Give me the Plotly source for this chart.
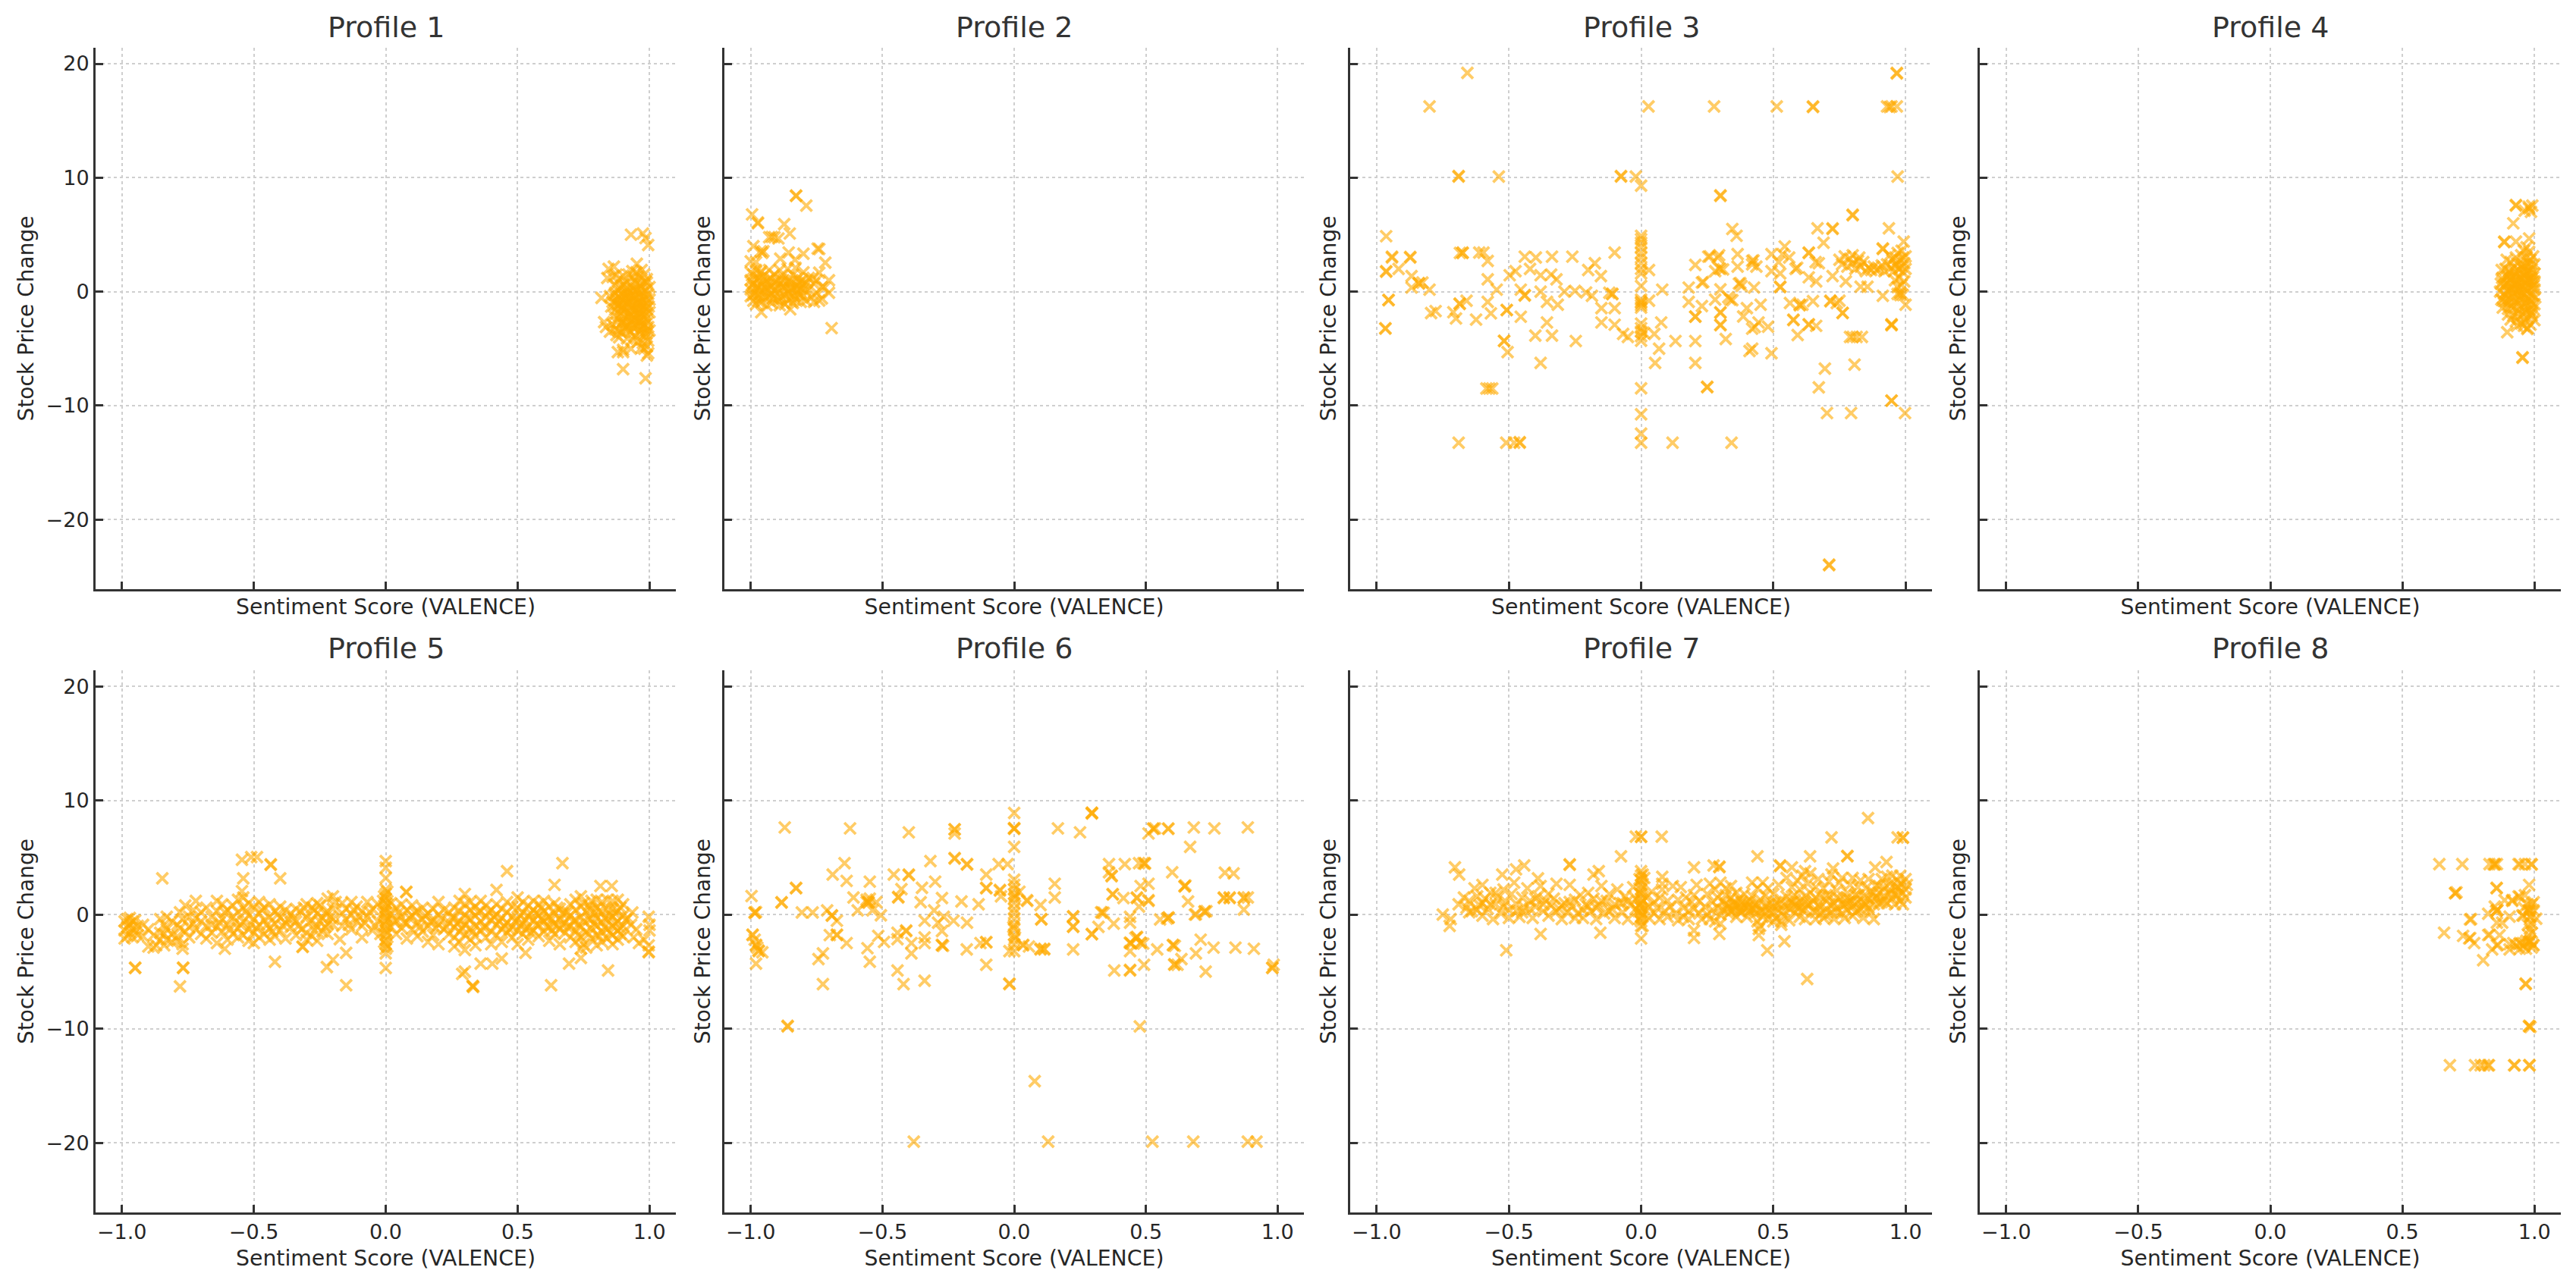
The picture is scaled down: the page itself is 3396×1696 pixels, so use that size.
import plotly.graph_objects as go

W, H = 3396, 1696

titles = ["Profile 1", "Profile 2", "Profile 3", "Profile 4", "Profile 5", "Profile 6", "Profile 7", "Profile 8"]
x_ticks = [-1.0, -0.5, 0.0, 0.5, 1.0]
y_ticks = [-20, -10, 0, 10, 20]
x_label = "Sentiment Score (VALENCE)"
y_label = "Stock Price Change"

profile1 = [
(.93,5.0),(.975,5.1),(.985,4.7),(.995,4.1),(.985,-7.6),(.90,-6.8),(.88,-5.3),(.90,-5.1),(.995,-5.4),(.99,-4.8),
(.865,2.2),(.845,2.0),(.952,2.45),(.99,1.1),(.84,1.2),(.818,-.55),(.828,-2.67),(.835,-3.1),(.85,-3.5),(.875,-3.8),(.9,-5.3),(.93,-5.0),(.99,-5.6),
(.86,1.3),(.87,.6),(.875,1.5),(.88,.1),(.885,1.1),(.89,-.6),(.895,.5),(.9,1.4),(.905,-1.2),(.91,.9),(.915,-.2),(.92,1.5),(.925,-.9),(.93,.5),(.935,1.8),(.94,-.3),(.945,1.0),(.95,1.7),(.955,.2),(.96,1.4),(.965,-.5),(.97,1.9),(.975,.7),(.98,1.5),(.985,.1),(.99,.8),(.995,-.2),(1.0,.4),
(.85,-.4),(.855,-1.3),(.86,-.9),(.865,-2.1),(.87,-1.6),(.875,-.7),(.88,-2.3),(.885,-1.1),(.89,-1.9),(.895,-2.7),(.9,-.8),(.905,-2.2),(.91,-1.5),(.915,-3.0),(.92,-.6),(.925,-1.9),(.93,-2.6),(.935,-1.2),(.94,-3.2),(.945,-1.7),(.95,-2.4),(.955,-.9),(.96,-3.4),(.965,-1.6),(.97,-2.7),(.975,-.8),(.98,-3.6),(.985,-2.0),(.99,-1.0),(.995,-3.1),(1.0,-1.8),
(.86,-2.9),(.87,-3.3),(.88,-3.4),(.885,-4.0),(.895,-3.6),(.905,-3.2),(.915,-4.1),(.925,-3.5),(.935,-4.2),(.945,-3.9),(.955,-4.4),(.965,-3.7),(.975,-4.5),(.985,-4.0),(.995,-4.3),(1.0,-3.4),(.97,-4.9),(.98,-5.0),
(.92,-.1),(.93,-1.3),(.94,.2),(.95,-1.1),(.96,-.2),(.97,-1.3),(.98,-.4),(.99,-1.5),(1.0,-.7),(.99,-2.4),(.97,-2.0),(.95,-2.0),(.98,-2.9),(.96,-2.6),(.94,-2.5),(.92,-2.2),(.9,-1.6),(.91,-.5),
(.87,-.1),(.88,-1.2),(.89,.3),(.9,-2.6),(.91,-3.0),(.92,-3.3),(.93,.1),(.94,1.3),(.95,.7),(.96,-1.0),(.97,.3),(.98,-1.7),(.99,-3.4),(.985,.9),(.975,-3.2),(.955,-3.0),(.935,-2.1),(.915,-1.0),(.895,-1.3),(.875,-2.7),
(.865,-.3),(.872,-1.1),(.883,-.4),(.893,-1.5),(.903,-.2),(.908,-2.7),(.918,-1.8),(.928,-.4),(.938,-1.6),(.943,-2.9),(.948,-.5),(.953,-1.5),(.958,-1.9),(.963,-2.3),(.968,-1.0),(.973,-.1),(.978,-2.2),(.983,-1.3),(.988,-.6),(.993,-2.7),(.997,-1.3),(.963,.6),(.948,.1),(.933,-.7),(.923,-2.9),(.913,.3),(.903,.6),(.893,-.2),(.968,-3.0),(.988,-3.7),
]

profile2 = [
(-.828,8.44),(-.828,8.4),(-.789,7.56),(-.995,6.78),(-.973,6.07),(-.973,6.0),(-.873,5.93),(-.852,5.1),(-.93,4.78),(-.91,4.78),(-.92,4.8),(-.895,4.67),(-.99,4.0),(-.962,3.55),(-.952,3.55),(-.957,3.4),(-.856,3.44),(-.80,3.33),(-.746,3.78),(-.74,3.75),(-.888,2.9),(-.717,2.55),(-.832,2.8),(-1.0,2.67),(-.98,2.6),(-.703,1.0),(-.703,-.1),(-.693,-3.2),(-.96,-1.8),(-.85,-1.55),(-.74,-.78),(-.74,1.67),(-.765,1.2),(-.72,.35),
(-1.0,1.7),(-1.0,1.0),(-1.0,.2),(-1.0,-.4),(-.99,1.5),(-.99,.7),(-.99,-.8),(-.98,1.9),(-.98,.3),(-.98,-1.1),(-.97,1.2),(-.97,-.3),(-.96,1.8),(-.96,.6),(-.96,-.9),(-.95,.0),(-.95,1.4),(-.94,-1.2),(-.94,.9),(-.93,1.9),(-.93,-.4),(-.92,.5),(-.92,-1.0),(-.91,1.5),(-.91,.1),(-.90,-.7),(-.90,1.0),(-.89,1.9),(-.89,-1.2),(-.88,.4),(-.88,1.4),(-.87,-.3),(-.87,-1.1),(-.86,.9),(-.86,2.0),(-.85,-.6),(-.85,.3),(-.84,1.5),(-.84,-1.0),(-.83,.6),(-.83,2.1),(-.82,-.2),(-.82,1.2),(-.81,-.9),(-.81,.3),(-.80,1.7),(-.80,-.4),
(-.79,.8),(-.79,-.8),(-.78,.2),(-.78,1.2),(-.77,-.5),(-.76,.7),(-.75,-.1),(-.75,1.0),(-.73,.4),(-.73,-.6),(-.76,-.9),(-.975,.5),(-.945,.4),(-.905,-.2),(-.865,.2),(-.825,.1),(-.795,.2),(-.985,-.1),(-.935,.2),(-.895,.6),(-.855,-.1),
(-.995,.6),(-.965,1.6),(-.955,-.5),(-.925,1.2),(-.915,-.6),(-.885,-.5),(-.875,1.0),(-.845,.8),(-.835,-.4),(-.815,.8),(-.805,1.0),
(-.992,-.3),(-.982,1.0),(-.972,-.8),(-.962,.1),(-.952,.9),(-.942,-.5),(-.932,.7),(-.922,-.2),(-.912,.8),(-.902,.3),(-.892,-.8),(-.882,1.0),(-.872,.4),(-.862,-.7),(-.852,.9),(-.842,.1),(-.832,-.7),(-.822,.5),(-.812,-.3),(-.802,.6),
]

profile3 = [
(-.657,19.2),(.967,19.2),(.967,19.15),(-.80,16.25),(.028,16.25),(.276,16.25),(.513,16.25),(.65,16.25),(.65,16.2),(.93,16.25),(.947,16.25),(.94,16.2),(.967,16.25),
(-.69,10.1),(-.69,10.15),(-.538,10.1),(-.076,10.1),(-.076,10.15),(-.02,10.1),(0,9.3),(.97,10.1),(.30,8.4),(.30,8.45),(.80,6.75),(.80,6.7),
(.345,5.5),(.361,4.9),(.667,5.56),(.724,5.56),(.724,5.5),(.937,5.56),(-.964,4.87),(.69,4.3),(.993,4.4),
(-.942,3.07),(-.942,3.0),(-.873,3.0),(-.873,3.05),(-.675,3.43),(-.675,3.4),(-.685,3.4),(-.612,3.43),(-.596,3.43),(-.58,2.7),(-.44,3.07),(-.398,3.0),(-.337,3.07),(-.26,3.07),(-.175,2.5),(-.10,3.43),(-.42,2.0),
(-.964,1.8),(-.964,1.75),(-.917,2.0),(-.475,1.8),(-.497,1.44),(-.38,1.44),(-.34,1.5),(-.2,1.9),(-.152,1.37),(-.32,1.08),(-.868,1.37),(-.84,.72),(-.84,.75),(-.868,.36),(-.80,.18),(-.827,.8),(-.58,1.08),(-.546,.18),(-.455,.18),(-.38,0),(-.29,0),(-.25,.07),(-.208,-.07),(-.186,-.36),
(-.955,-.72),(-.955,-.75),(-.686,-1.08),(-.686,-1.05),(-.66,-.8),(-.58,-.9),(-.568,-1.9),(-.794,-1.88),(-.777,-1.7),(-.71,-1.8),(-.70,-2.35),(-.624,-2.45),(-.508,-1.62),(-.508,-1.6),(-.44,-.3),(-.44,-.35),(-.356,-.9),(-.315,-1.15),(-.455,-2.2),(-.356,-2.7),(-.15,-1.44),(-.109,-.18),(-.109,-.22),(-.12,-.1),(-.10,-1.44),(-.15,-2.7),(-.10,-2.9),(-.068,-3.7),(-.05,-3.97),(-.40,-3.86),(-.337,-3.86),(-.247,-4.33),(-.518,-4.33),(-.518,-4.3),(-.505,-5.3),(-.38,-6.25),(-.585,-8.5),(-.574,-8.5),(-.563,-8.5),(-.967,-3.25),(-.967,-3.2),
(-.69,-13.25),(-.51,-13.25),(-.48,-13.25),(-.459,-13.25),(-.459,-13.2),(0,-13.25),(.119,-13.25),(.342,-13.25),(0,-12.45),(0,-10.76),(0,-8.48),
(.25,-8.38),(.25,-8.35),(.205,-6.25),(.053,-6.25),(.068,-5),(.205,-4.33),(.13,-4.33),(.05,-3.7),(.076,-2.7),(.205,-2.17),(.205,-2.2),(.32,-4.15),(.30,-2.9),(.30,-2.95),(.30,-1.8),(.30,-1.85),(.386,-2.17),(.40,-1.44),(.42,-3.25),(.444,-2.7),(.48,-3.07),(.41,-5.2),(.42,-5.0),(.493,-5.4),(.452,-1.15),(.43,-3.1),(.576,-2.5),(.576,-2.45),(.592,-3.8),(.634,-2.9),(.634,-2.85),(.662,-3),(.60,-1.15),(.61,-1.15),(.60,-1.2),(.563,-1),(.65,-.83),(.716,-.8),(.716,-.85),(.74,-1),(.75,-.8),(.762,-1.88),(.762,-1.85),(.79,-3.97),(.815,-3.97),(.835,-3.97),(.80,-3.97),(.695,-6.75),(.807,-6.4),(.672,-8.4),(.703,-10.65),(.794,-10.65),(.998,-10.65),(.947,-9.57),(.947,-9.55),(.947,-2.9),(.947,-2.95),(.947,-2.85),(.711,-24),(.711,-23.95),(.914,-.36),(1,-1.15),
(.543,3.97),(.535,3.3),(.493,3.3),(.634,3.43),(.634,3.4),(.672,2.5),(.66,2.6),(.584,2),(.59,2.1),(.493,1.8),(.526,1.6),(.526,.43),(.526,.4),(.634,1.26),(.662,.9),(.724,1.37),(.774,.9),(.856,.43),(.83,.43),(.914,3.8),(.914,3.75),(.52,2.6),(.56,3.0),
(0,4.9),(0,4.6),(0,4.3),(0,3.9),(0,3.4),(0,3.0),(0,2.5),(0,2.0),(0,1.6),(0,.5),(0,-.7),(0,-.9),(0,-1.0),(0,-1.2),(0,-1.4),(0,-2.8),(0,-3.2),(0,-3.5),(0,-3.9),(0,-4.3),(.03,1.9),(.08,.18),(.03,-.8),(.01,-3.6),
(.18,-.9),(.23,-1.26),(.18,.36),(.23,.8),(.235,.85),(.205,2.35),(.254,3.07),(.26,3.1),(.295,3.2),(.29,3.0),(.30,2.0),(.295,2.05),(.31,1.95),(.28,1.8),(.365,3.3),(.365,2.2),(.37,.7),(.375,.75),(.38,.5),(.337,-.7),(.345,-.75),(.33,-.5),(.30,.2),(.28,-.7),(.42,2.7),(.425,2.75),(.42,2.4),(.436,2.2),(.427,.36),
(.75,2.8),(.76,2.4),(.77,3.1),(.78,2.2),(.79,2.9),(.80,2.5),(.80,3.2),(.81,2.0),(.82,2.7),(.825,3.0),(.83,2.2),(.84,2.6),(.85,1.8),(.86,2.1),(.87,1.9),(.88,2.2),(.89,1.9),(.90,2.0),(.91,2.3),(.92,1.8),(.93,2.4),
(.94,3.2),(.945,2.1),(.95,2.8),(.955,1.8),(.96,3.0),(.96,1.0),(.965,2.4),(.97,3.4),(.97,.4),(.975,2.0),(.975,1.2),(.98,2.8),(.98,-.1),(.985,3.6),(.985,2.2),(.985,.6),(.99,3.0),(.99,1.7),(.99,-.3),(.995,2.5),(.995,.9),(1.0,3.1),(1.0,2.0),(.97,-.2),(.98,-.3),(.96,2.3),
]

profile4 = [
(.93,7.6),(.93,7.55),(.978,7.45),(.992,7.55),(.963,7.1),(.987,7.0),(.98,7.3),(.92,6.0),(.886,4.4),(.886,4.35),(.93,4.4),(.98,4.67),(.955,-5.8),(.955,-5.75),(.897,-3.55),(.973,-3.27),(.975,-3.2),(.934,-3.0),(.91,-2.44),
(.97,3.9),(.96,3.6),(.98,3.5),(.995,3.1),(.95,3.2),(.93,3.0),(.97,3.0),(.985,2.8),(.895,2.8),(.91,2.6),(.935,2.5),(.955,2.4),(1.0,2.4),
(.876,1.9),(.89,2.0),(.905,1.8),(.92,2.1),(.94,1.9),(.96,2.0),(.975,1.8),(.99,2.0),(1.0,1.6),(.878,1.2),(.895,1.3),(.91,1.1),(.93,1.4),(.95,1.2),(.965,1.4),(.985,1.2),(1.0,.9),
(.873,.7),(.885,.5),(.90,.8),(.915,.4),(.935,.7),(.955,.5),(.97,.8),(.99,.4),(1.0,.2),(.87,.0),(.885,-.2),(.90,.1),(.92,-.1),(.94,.1),(.96,-.2),(.975,.0),(.995,-.3),(1.003,-.5),
(.875,-.7),(.89,-.9),(.905,-.6),(.925,-.9),(.945,-.7),(.965,-1.0),(.985,-.8),(1.0,-1.1),(.88,-1.4),(.90,-1.5),(.92,-1.3),(.94,-1.6),(.96,-1.4),(.98,-1.6),(.995,-1.5),
(.90,-2.0),(.92,-2.1),(.94,-2.2),(.955,-2.0),(.975,-2.3),(.99,-2.1),(1.0,-2.5),(.93,-2.6),(.95,-2.8),(.965,-2.6),(.985,-2.9),(.96,-3.0),
(.91,.2),(.93,1.0),(.95,-.4),(.97,1.6),(.98,-1.2),(.90,1.5),(.89,-.4),(.99,.9),(.92,.7),(.94,-1.0),(.96,.9),(.975,2.5),(.99,-1.8),(.985,2.4),
(.88,.9),(.895,.0),(.91,-1.2),(.925,1.7),(.935,-.3),(.945,.4),(.955,1.6),(.965,.2),(.975,1.1),(.985,-.2),(.995,1.3),(.91,1.6),(.925,.2),(.945,-1.3),(.965,-1.8),(.985,-1.9),(.95,2.2),(.97,2.2),
(.882,-.8),(.892,.7),(.902,-1.0),(.912,.9),(.922,-.5),(.932,.5),(.942,1.2),(.952,-.1),(.962,-.6),(.972,.5),(.982,.9),(.992,-1.1),(.998,.6),(.918,1.3),(.938,-1.9),(.958,1.0),(.978,-.6),(.988,1.6),
]

profile5 = [
(-.847,3.17),(-.545,4.8),(-.51,5.03),(-.488,5.03),(-.436,4.4),(-.436,4.35),(-.40,3.17),(-.54,3.17),(-.545,2.05),(-.95,-4.68),(-.95,-4.65),(-.768,-4.68),(-.768,-4.65),(-.78,-6.3),(-.42,-4.14),(-.61,-3.0),(-.315,-2.8),(-.315,-2.85),(-.223,-4.6),(-.2,-3.96),(-.15,-3.35),(-.15,-6.2),(-.174,-2.16),(0,-4.68),(0,-3.4),(0,4.68),(0,4.1),(0,3.2),(.078,2.0),(.078,1.95),(.30,1.8),(.29,-5.2),(.30,-5.0),(.33,-6.3),(.33,-6.25),(.332,-6.35),(.36,-4.3),(.404,-4.3),(.44,-3.85),(.46,3.8),(.42,2.16),(.53,-3.35),(.627,-6.2),(.64,2.6),(.67,4.5),(.695,-4.3),(.74,-3.8),(.814,2.5),(.857,2.5),(.843,-4.9),(.997,-.2),(1,-.9),(1.0,-1.4),(.997,-2.7),(.997,-3.3),(.997,-3.25),(.96,-2.5),(.98,-2.2),(.935,.18),(.918,-.3),(.95,-1.3),(.94,-2.0),(.93,-.9),
(-.99,-.6),(-.99,-1.4),(-.99,-2.1),(-.98,-.4),(-.98,-1.1),(-.98,-1.9),(-.97,-.8),(-.97,-1.6),(-.97,-.3),(-.96,-1.2),(-.96,-2.0),(-.96,-.6),(-.95,-.5),(-.95,-1.5),(-.94,-1.0),(-.94,-1.8),(-.92,-1.9),(-.92,-.9),(-.9,-1.3),(-.9,-2.8),(-.88,-2.9),(-.88,-1.8),(-.87,-2.7),
(-.855,-.4),(-.855,-1.6),(-.855,-2.2),(-.84,-.9),(-.84,-2.7),(-.84,-1.7),(-.83,-.2),(-.83,-1.3),(-.83,-2.2),(-.81,-1.7),(-.81,-.6),(-.81,-2.4),(-.79,-.9),(-.79,-1.9),(-.79,-2.3),(-.78,.2),(-.78,-1.2),(-.77,-.4),(-.77,-2.6),(-.77,-3.0),(-.76,.8),(-.76,-1.5),(-.745,-.2),(-.745,-1.1),(-.745,-2.0),(-.73,.4),(-.73,-.8),(-.72,1.2),(-.72,-.3),(-.72,-1.3),(-.7,.2),(-.7,-1.7),(-.7,-.6),(-.68,.6),(-.68,-1.0),(-.68,-2.1),(-.66,-.2),(-.66,-.9),(-.66,-1.6),
(-.64,1.2),(-.64,.3),(-.64,-1.1),(-.64,-2.5),(-.62,.9),(-.62,-.4),(-.62,-1.5),(-.6,.4),(-.6,-.9),(-.6,-2.2),(-.58,.8),(-.58,-.2),(-.58,-1.7),(-.56,1.3),(-.56,.2),(-.56,-1.2),(-.56,-2.0),(-.54,1.5),(-.54,.6),(-.54,-.6),(-.54,-1.8),(-.52,1.0),(-.52,-.1),(-.52,-1.3),(-.52,-2.3),(-.5,.7),(-.5,-.4),(-.5,-1.6),(-.5,-2.5),(-.48,1.1),(-.48,.1),(-.48,-.9),(-.48,-2.0),(-.46,.6),(-.46,-.5),(-.46,-1.7),(-.44,.9),(-.44,-.2),(-.44,-1.2),(-.44,-2.2),(-.42,.3),(-.42,-.8),(-.42,-1.9),(-.4,.7),(-.4,-.3),(-.4,-1.4),(-.38,.4),(-.38,-.7),(-.38,-2.1),(-.36,.1),(-.36,-1.1),(-.34,.5),(-.34,-.6),(-.34,-1.8),(-.32,.2),(-.32,-1.3),(-.3,.9),(-.3,-.2),(-.3,-1.6),(-.3,-2.2),(-.28,.6),(-.28,-.5),(-.28,-1.9),(-.26,1.0),(-.26,.1),(-.26,-1.1),(-.26,-2.3),(-.25,.8),(-.24,-.3),(-.24,-1.5),(-.22,1.4),(-.22,.3),(-.22,-.8),(-.22,-1.7),(-.2,1.6),(-.2,.5),(-.2,-.4),(-.2,-.9),(-.19,1.1),
(-.165,1.0),(-.165,.1),(-.165,-1.0),(-.15,.5),(-.15,-.4),(-.13,1.1),(-.13,.0),(-.13,-1.3),(-.11,.7),(-.11,-.6),(-.09,.3),(-.09,-1.0),(-.09,-2.0),(-.07,1.1),(-.07,-.2),(-.05,.5),(-.05,-1.4),(-.03,.9),(-.03,-.6),(-.02,-1.7),(-.01,1.2),(-.01,.1),
(0,2.2),(0,1.8),(0,1.4),(0,1.0),(0,.6),(0,.2),(0,-.2),(0,-.6),(0,-1.0),(0,-1.4),(0,-1.8),(0,-2.2),(0,-2.6),(0,-3.0),(.006,2.0),(.006,.9),(.006,-.4),(.006,-1.6),(.006,-2.8),(-.006,1.6),(-.006,.4),(-.006,-.9),(-.006,-2.4),
(.02,1.0),(.02,.0),(.02,-1.1),(.04,.6),(.04,-.5),(.04,-1.7),(.06,.9),(.06,-.2),(.06,-1.2),(.08,.4),(.08,-.8),(.08,-2.1),(.1,.8),(.1,-.1),(.1,-1.3),(.12,.3),(.12,-.7),(.12,-1.9),(.14,.6),(.14,-.4),(.14,-1.5),(.16,.1),(.16,-1.0),(.16,-2.4),(.18,.5),(.18,-.6),(.18,-1.8),(.2,1.1),(.2,.0),(.2,-.9),(.2,-2.6),(.22,.4),(.22,-1.3),(.24,.2),(.24,-.7),(.24,-1.7),
(.26,.6),(.26,-.3),(.26,-1.1),(.26,-2.0),(.26,-2.8),(.28,1.2),(.28,.3),(.28,-.6),(.28,-1.5),(.28,-2.4),(.3,.9),(.3,.0),(.3,-.9),(.3,-1.8),(.3,-3.1),(.32,1.1),(.32,.4),(.32,-.4),(.32,-1.2),(.32,-2.2),(.34,.7),(.34,-.1),(.34,-1.0),(.34,-1.9),(.34,-2.7),(.36,1.2),(.36,.3),(.36,-.6),(.36,-1.4),(.38,.8),(.38,-.2),(.38,-1.1),(.38,-2.0),(.4,.4),(.4,-.5),(.4,-1.5),(.4,-2.6),(.42,.9),(.42,.0),(.42,-.9),(.42,-1.8),(.44,.5),(.44,-.3),(.44,-1.3),(.44,-2.4),(.46,1.1),(.46,.2),(.46,-.7),(.46,-1.6),(.48,.7),(.48,-.2),(.48,-1.1),(.48,-2.0),
(.5,1.5),(.5,.6),(.5,-.4),(.5,-1.4),(.5,-2.6),(.52,1.1),(.52,.2),(.52,-.8),(.52,-1.7),(.54,.8),(.54,-.1),(.54,-1.1),(.54,-2.2),(.56,1.2),(.56,.4),(.56,-.5),(.56,-1.4),(.58,.9),(.58,.0),(.58,-.9),(.58,-1.9),(.6,1.2),(.6,.3),(.6,-.6),(.6,-1.5),(.62,.7),(.62,-.2),(.62,-1.1),(.62,-2.3),(.64,1.0),(.64,.1),(.64,-.8),(.64,-1.7),(.66,.5),(.66,-.4),(.66,-1.3),(.66,-2.6),(.68,.2),(.68,-.7),(.68,-1.6),(.7,.9),(.7,-.1),(.7,-1.0),(.7,-2.0),
(.72,1.3),(.72,.4),(.72,-.5),(.72,-1.4),(.72,-2.4),(.74,1.6),(.74,.7),(.74,-.2),(.74,-1.1),(.74,-2.0),(.74,-3.0),(.75,1.0),(.75,-.6),(.75,-2.6),(.76,.3),(.76,-1.5),(.76,-2.9),(.78,1.2),(.78,.5),(.78,-.4),(.78,-1.2),(.78,-2.1),(.8,1.3),(.8,.6),(.8,-.3),(.8,-1.0),(.8,-1.8),(.8,-2.7),(.82,1.1),(.82,.2),(.82,-.7),(.82,-1.5),(.82,-2.4),(.84,1.3),(.84,.4),(.84,-.5),(.84,-1.3),(.84,-2.1),(.86,1.2),(.86,.5),(.86,-.2),(.86,-1.0),(.86,-1.8),(.86,-2.6),(.88,1.3),(.88,.3),(.88,-.6),(.88,-1.4),(.88,-2.2),(.9,.9),(.9,-.1),(.9,-1.0),(.9,-1.9),
(-.51,-.9),(-.47,.4),(-.43,-1.5),(-.35,-.3),(-.27,.4),(-.23,-1.1),(-.55,-.9),(-.53,.3),(.31,-.3),(.33,-1.5),(.37,-1.1),(.39,.2),(.43,-.6),(.47,-1.3),(.51,-.1),(.53,-.5),(.55,-1.6),(.57,.1),(.59,-.4),(.61,-1.1),(.63,-.4),(.65,.6),(.67,-.9),(.69,.2),(.71,-.6),(.73,-1.8),(.77,.8),(.79,-.8),(.81,.3),(.83,-1.1),(.85,.0),(.87,-.8),(.89,.6),(.77,-1.7),(.81,-1.9),(.85,-1.6),(.89,-1.7),
(-.63,-.7),(-.61,.2),(-.59,-1.3),(-.57,-.6),(-.49,-1.2),(-.45,-.9),(-.41,.0),(-.39,-1.0),(-.37,-.4),(-.33,-1.0),(-.31,.6),(-.29,-.7),(-.27,-1.4),(-.25,-.6),(-.23,.1),(-.21,-.2),(-.14,-.9),(-.12,.4),(-.1,-.2),(-.08,-.7),(-.06,.2),(-.04,-1.0),(.03,-.6),(.05,.2),(.07,-.7),(.09,-.3),(.11,.2),(.13,-1.1),(.15,-.1),(.17,-.6),(.19,-1.2),(.21,-.3),(.23,-1.1),(.25,-.2),(.27,-.8),(.29,-1.2),(.35,.2),(.41,-.2),(.45,-1.0),(.49,-.6),(.91,-.5),(.89,-1.2),(.87,.1),(.83,-.3),(.79,.1),(.77,-.4),(.73,-.9),(.69,-1.1),(.67,.1),(.65,-1.0),(.63,-1.4),(.61,-.3),(.59,.6),(.57,-.9),(.55,.1),(.53,-1.3),(.51,-1.0),
]

profile6 = [
(-.871,7.63),(-.623,7.55),(-.40,7.2),(-.226,7.48),(-.226,7.45),(-.226,7.1),(0,7.55),(0,7.5),(0,7.58),(0,8.9),(0,5.93),(.166,7.55),(.25,7.2),(.295,8.9),(.295,8.85),(.295,8.92),(.51,7.1),(.528,7.55),(.528,7.5),(.535,7.55),(.585,7.55),(.585,7.5),(.682,7.63),(.76,7.55),(.887,7.63),(.668,5.93),
(-.644,4.5),(-.689,3.5),(-.636,2.95),(-.828,2.34),(-.828,2.3),(-.457,3.5),(-.40,3.5),(-.40,3.45),(-.318,4.68),(-.226,4.96),(-.226,4.9),(-.179,4.42),(-.179,4.38),(-.106,3.5),(-.059,4.42),(-.025,4.42),(.36,4.42),(.42,4.42),(.474,4.5),(.496,4.5),(.496,4.45),(.49,4.5),(.37,3.4),(.37,3.35),(.36,3.7),(.60,3.7),(.647,2.5),(.647,2.45),(.65,2.55),(.80,3.67),(.833,3.6),(-.997,1.62),(-.883,1.08),(-.883,1.05),(-.985,.18),(-.985,.15),(-.98,.22),(-.806,.18),(-.765,.18),(-.71,.36),(-.692,-.07),(-.692,-.1),(-.673,-.54),(-.61,1.5),(-.594,.36),(-.548,2.88),(-.553,1.08),(-.553,1.05),(-.56,1.1),(-.548,1.4),(-.56,1.3),(-.523,1.08),(-.538,.36),(-.506,-.07),(-.428,2.23),(-.44,1.55),(-.44,1.5),(-.35,2.34),(-.355,1.08),(-.3,2.88),(-.274,1.44),(-.304,.36),(-.34,-.54),(-.289,-.72),(-.267,-.2),(-.23,-.54),(-.2,1.15),(-.179,-.72),(-.135,.9),(-.106,2.34),(-.106,2.3),(-.054,2.16),(-.054,2.1),(-.05,1.6),
(0,3.06),(0,2.6),(0,2.2),(0,1.8),(0,1.4),(0,1.0),(0,.5),(0,.1),(0,-.4),(0,-.9),(0,-1.3),(0,-1.8),(0,-2.2),(0,-2.6),(0,-3.2),(.003,1.6),(-.003,-1.1),(.003,-2.0),(.02,2.0),(.048,1.26),(.05,1.2),(.034,-2.7),(.034,-2.65),(.056,-2.8),(-.018,-3.2),
(.1,.83),(.103,-.43),(.103,-.4),(.154,2.7),(.154,1.5),(.224,-.18),(.224,-.15),(.224,-1.08),(.224,-1.05),(.295,-1.73),(.295,-1.7),(.334,.18),(.33,.2),(.34,.15),(.32,-1.08),(.378,-.8),(.374,1.8),(.374,1.75),(.415,1.44),(.466,1.5),(.466,1.45),(.51,1.26),(.51,1.2),(.48,2.5),(.51,2.7),(.474,.7),(.44,-.72),(.44,-.2),(.554,-.43),(.586,-.29),(.586,-.25),(.58,-.35),(.686,0),(.69,.02),(.723,.29),(.723,.25),(.73,.3),(.66,1.15),(.796,1.5),(.796,1.45),(.818,1.5),(.818,1.45),(.872,1.5),(.872,1.45),(.887,1.5),(.872,.43),
(-.993,-1.8),(-.993,-1.75),(-.98,-2.7),(-.98,-2.65),(-.985,-2.2),(-.97,-3.2),(-.97,-3.15),(-.975,-2.9),(-.956,-3.3),(-.98,-4.3),(-.726,-3.4),(-.743,-3.9),(-.726,-6.1),(-.86,-9.8),(-.86,-9.75),(-.70,-1.8),(-.673,-1.8),(-.673,-1.75),(-.636,-2.5),(-.557,-2.95),(-.548,-4.14),(-.516,-1.87),(-.494,-2.4),(-.443,-1.6),(-.443,-2.16),(-.41,-1.44),(-.41,-1.4),(-.39,-2.5),(-.39,-3.4),(-.443,-4.9),(-.42,-6.1),(-.34,-5.8),(-.34,-2.0),(-.34,-2.5),(-.274,-1.44),(-.274,-2.7),(-.274,-2.65),(-.27,-2.75),(-.18,-3.06),(-.128,-2.5),(-.106,-2.45),(-.106,-2.4),(-.106,-4.4),(-.018,-6.1),(-.018,-6.05),(.1,-3.06),(.1,-3.0),(.114,-3.06),(.114,-3.0),(.224,-3.06),(.38,-4.9),(.44,-4.9),(.44,-4.85),(.44,-2.5),(.44,-2.45),(.445,-2.55),(.466,-2.0),(.466,-1.95),(.46,-2.05),(.48,-2.5),(.48,-2.45),(.49,-2.55),(.44,-3.2),(.493,-4.4),(.543,-3.06),(.603,-2.7),(.603,-2.65),(.61,-2.75),(.608,-4.4),(.608,-4.35),(.62,-4.4),(.635,-3.9),(.69,-3.4),(.708,-2.2),(.727,-5.0),(.757,-2.9),(.84,-2.9),(.91,-3.0),(.98,-4.68),(.98,-4.65),(.985,-4.4),
(.477,-9.8),(.078,-14.6),(-.381,-19.9),(.129,-19.9),(.525,-19.9),(.68,-19.9),(.887,-19.9),(.92,-19.9),
]

profile7 = [
(.858,8.45),(-.02,6.83),(0,6.83),(0,6.8),(.078,6.83),(.72,6.76),(.97,6.76),(.99,6.76),(.99,6.72),(-.076,5.1),(.44,5.1),(.639,5.1),(.78,5.14),(.78,5.1),(-.704,4.14),(-.688,3.5),(-.442,4.3),(-.473,3.96),(-.525,3.5),(-.27,4.4),(-.27,4.35),(-.39,3.17),(-.16,3.8),(-.18,3.5),(.2,4.14),(.274,4.3),(.296,4.2),(.296,4.15),(.526,4.3),(.526,4.25),(.57,4.14),(.62,3.8),(.726,4.03),(.885,4.14),(.928,4.6),
(-.51,-3.13),(-.38,-1.7),(-.154,-1.6),(0,-2.1),(.2,-2.05),(.296,-1.7),(.445,-1.8),(.477,-3.13),(.542,-2.34),(.628,-5.65),(.445,-1.26),(-.724,-1.0),(-.75,0),(-.72,-.4),(.2,-1.4),(.45,-1.0),(.53,-.9),
(-.69,.9),(-.67,1.5),(-.66,.6),(-.65,1.2),(-.64,.3),(-.63,2.3),(-.62,1.6),(-.61,.8),(-.6,2.6),(-.6,-.1),(-.59,1.4),(-.58,.5),(-.57,1.9),(-.56,-.4),(-.55,.9),(-.54,1.5),(-.53,.1),(-.52,2.2),(-.51,1.1),(-.5,.4),(-.49,1.8),(-.48,2.8),(-.47,.9),(-.46,-.2),(-.45,1.5),(-.44,.6),(-.43,2.3),(-.42,1.2),(-.41,-.3),(-.4,.7),(-.39,1.6),(-.38,2.5),(-.37,.3),(-.36,1.2),(-.35,-.1),(-.34,.8),(-.33,1.4),(-.32,2.7),(-.31,.5),(-.3,-.4),(-.29,1.0),(-.28,.2),(-.27,2.6),(-.26,.7),(-.25,1.3),(-.24,.1),(-.23,1.7),(-.22,-.3),(-.21,.9),(-.2,1.9),(-.19,.3),(-.18,1.4),(-.17,-.4),(-.16,.8),(-.15,2.5),(-.14,.1),(-.13,1.2),(-.12,1.8),(-.11,.5),(-.1,-.3),(-.09,2.2),(-.08,1.0),(-.07,.2),(-.06,1.6),(-.05,-.4),(-.04,.8),(-.03,2.4),(-.02,1.4),(-.01,.3),
(-.65,.2),(-.6,1.0),(-.55,1.9),(-.5,-.3),(-.45,.2),(-.4,1.4),(-.35,1.8),(-.3,.8),(-.25,-.3),(-.2,.7),(-.15,1.2),(-.1,.9),(-.05,1.2),
(-.62,.4),(-.57,.9),(-.52,.7),(-.47,.3),(-.42,.5),(-.37,.9),(-.32,.3),(-.27,1.1),(-.22,.4),(-.17,.6),(-.12,.3),(-.07,1.0),(-.02,.5),
(0,3.8),(0,3.4),(0,3.0),(0,2.6),(0,2.2),(0,1.8),(0,1.4),(0,1.0),(0,.6),(0,.2),(0,-.2),(0,-.6),(0,-1.0),(.006,3.5),(.006,2.4),(.006,1.2),(.006,.0),(.006,-1.0),(-.006,3.1),(-.006,1.9),(-.006,.8),(-.006,-.4),(.012,3.2),(.012,.5),
(.02,1.5),(.03,.7),(.03,-.3),(.04,2.0),(.05,1.1),(.05,.1),(.06,.6),(.07,-.4),(.07,1.5),(.08,3.3),(.08,2.7),(.08,2.2),(.09,.3),(.1,1.2),(.1,-.2),(.11,.7),(.12,2.5),(.13,.1),(.14,1.3),(.14,-.5),(.15,2.4),(.16,.6),(.16,-.2),(.17,1.5),(.18,.3),(.18,-.4),(.19,1.1),(.2,.5),(.2,1.7),(.21,2.6),(.22,.1),(.22,1.2),(.23,-.4),(.24,.7),(.25,1.8),(.25,.0),(.26,2.7),(.26,-.4),(.27,1.1),(.27,.4),(.28,2.2),(.28,-.6),(.29,1.5),(.29,.6),(.3,2.8),(.3,.0),(.3,-.8),(.31,1.2),(.31,.4),(.32,2.3),(.32,1.7),(.33,.8),(.33,.1),(.34,1.5),(.34,2.5),(.35,.4),(.35,1.1),(.36,1.9),(.36,-.2),(.37,.7),(.37,1.4),(.38,.2),(.38,1.1),(.39,1.8),(.4,.6),(.4,-.2),(.41,1.2),(.41,.3),(.42,2.8),(.42,1.6),(.43,.1),(.43,.9),(.44,2.3),(.44,-.6),(.45,1.3),(.45,.4),(.46,2.8),(.46,-.2),(.47,1.7),(.47,.7),(.48,2.3),(.48,-.4),(.49,1.0),(.49,.1),(.5,1.8),(.5,-.6),(.5,.7),
(.51,1.1),(.51,-.3),(.52,2.6),(.52,.4),(.53,1.3),(.53,-.6),(.54,.8),(.54,-.1),(.55,3.2),(.55,1.6),(.56,.5),(.56,-.5),(.57,2.4),(.57,1.1),(.58,.2),(.58,1.7),(.59,3.0),(.59,.7),(.6,2.2),(.6,1.2),(.6,-.2),(.61,3.4),(.61,.4),(.62,1.6),(.62,-.4),(.63,2.7),(.63,.9),(.64,3.6),(.64,1.9),(.65,.3),(.65,1.2),(.66,2.4),(.66,-.4),(.67,3.1),(.67,.8),(.68,1.6),(.68,.1),(.69,2.3),(.69,-.3),(.7,1.2),(.7,.5),(.71,2.9),(.71,1.7),(.72,.2),(.72,3.5),(.73,1.0),(.73,-.4),(.74,2.1),(.74,.6),(.75,2.8),(.75,1.4),(.76,.1),(.76,3.2),(.77,.9),(.77,-.3),(.78,1.9),(.78,.4),(.79,2.6),(.79,1.2),(.8,3.2),(.8,.7),(.8,-.1),(.81,1.7),(.81,.2),(.82,2.4),(.82,1.1),(.83,3.0),(.83,.5),(.84,1.6),(.84,-.3),(.85,2.3),(.85,.9),(.86,3.1),(.86,1.4),(.87,.2),(.87,2.0),(.88,-.4),(.88,.9),(.89,2.6),(.89,1.5),
(.9,1.9),(.91,3.1),(.91,1.1),(.92,2.3),(.92,1.6),(.93,3.3),(.93,1.0),(.94,2.7),(.94,1.9),(.95,1.4),(.95,3.4),(.96,2.4),(.96,.9),(.97,3.0),(.97,1.7),(.975,2.3),(.98,3.4),(.98,1.2),(.985,2.7),(.99,1.9),(.99,.9),(1.0,3.1),(1.0,2.2),(1.0,1.5),(1.005,2.6),
(.33,.5),(.35,.8),(.37,.3),(.39,.6),(.41,.8),(.43,.4),(.47,.2),(.52,.9),(.56,1.0),(.6,.6),(.64,.9),(.68,.7),(.72,.8),(.76,.9),(.8,1.2),(.84,.7),(.88,1.4),(.66,1.5),(.74,1.5),(.82,1.7),
(.32,.9),(.34,.3),(.36,.9),(.38,.6),(.4,1.1),(.42,.5),(.44,.8),(.46,.3),(.48,.9),(.5,.2),(.54,.3),(.58,.8),(.62,.5),(.66,.2),(.7,1.7),(.74,.2),(.78,1.0),(.82,.4),(.86,.6),(.9,1.0),(.58,1.3),(.62,1.1),(.7,-.1),(.78,1.5),(.84,1.1),(.88,1.9),(.92,1.2),(.96,1.8),(.97,2.4),(.94,2.2),(.9,2.5),
]

profile8 = [
(.64,4.42),(.727,4.42),(.83,4.42),(.85,4.42),(.85,4.38),(.845,4.4),(.858,4.42),(.94,4.42),(.945,4.4),(.964,4.42),(.988,4.42),(.99,4.38),(.70,1.9),(.70,1.85),(.705,1.95),(.857,2.34),(.857,2.3),(.98,2.6),(.916,1.26),(.916,1.2),(.94,1.6),(.945,1.55),(.887,1.26),(.964,1.7),(.997,1.08),(.858,.36),(.86,.4),(.855,.3),(.825,.07),(.85,.7),(.906,-.18),(.954,-.07),(.958,-.1),(.978,.36),(.98,.3),(.982,.42),(.997,.36),(1.007,-.36),(.983,-.18),(.985,-.22),
(.756,-.43),(.76,-.4),(.658,-1.6),(.73,-1.87),(.753,-2.1),(.757,-2.05),(.772,-2.5),(.825,-1.8),(.83,-1.75),(.868,-1.8),(.878,-.72),(.858,-.72),(.983,-1.26),(.978,-1.8),(.858,-2.7),(.862,-2.65),(.84,-3.06),(.806,-4.0),(.906,-2.6),(.92,-2.5),(.945,-2.5),(.95,-2.55),(.964,-2.5),(.983,-2.34),(.985,-2.3),(.98,-2.4),(.997,-2.7),(.995,-2.65),(.968,-3.0),(.945,-3.0),(.906,-3.06),(.99,-2.9),(.97,-2.3),(.93,-2.7),(.96,-2.8),
(.99,-.8),(.975,-.9),(.99,.9),(.975,.9),(.96,.6),(.99,-1.6),
(.967,-6.1),(.967,-6.05),(.98,-9.8),(.98,-9.75),(.985,-9.85),(.68,-13.2),(.775,-13.2),(.796,-13.2),(.81,-13.2),(.825,-13.2),(.828,-13.2),(.923,-13.2),(.925,-13.2),(.98,-13.2),(.982,-13.2),
]

all_profiles = [profile1, profile2, profile3, profile4, profile5, profile6, profile7, profile8]

# panel geometry in pixels (left, right) and (top, bottom)
cols = [(126, 891), (955, 1719), (1780, 2547), (2610, 3376)]
rows = [(63, 777), (884, 1599)]
title_y = [36, 855]

fig = go.Figure()
layout = dict(
    width=W, height=H, autosize=False,
    margin=dict(l=0, r=0, t=0, b=0),
    paper_bgcolor="white", plot_bgcolor="white",
    showlegend=False,
    font=dict(family="DejaVu Sans", color="#262626"),
)
annotations = []
GRID = "#cfcfcf"
AXIS = "#333333"
for i, pts in enumerate(all_profiles):
    r, c = divmod(i, 4)
    n = "" if i == 0 else str(i + 1)
    xa, ya = f"xaxis{n}", f"yaxis{n}"
    fig.add_trace(go.Scatter(
        x=[p[0] for p in pts], y=[p[1] for p in pts],
        mode="markers", xaxis=f"x{n}", yaxis=f"y{n}", name=titles[i],
        marker=dict(symbol="x-thin", size=15,
                    color="rgba(255,170,0,0.6)",
                    line=dict(width=3.8, color="rgba(255,170,0,0.6)")),
        hoverinfo="skip", cliponaxis=False,
    ))
    l, rt = cols[c]
    t, b = rows[r]
    layout[xa] = dict(
        domain=[l / W, rt / W], range=[-1.1, 1.1], anchor=f"y{n}",
        tickvals=x_ticks, tickformat=".1f", showticklabels=(r == 1),
        ticks="inside", ticklen=10, tickwidth=2.5, tickcolor=AXIS,
        tickfont=dict(size=27, color="#262626"),
        showline=True, linecolor=AXIS, linewidth=3, mirror=False,
        showgrid=True, gridcolor=GRID, griddash="4px,4px", gridwidth=1.6, zeroline=False,
        title=dict(text=x_label, font=dict(size=28.3, color="#262626"),
                   standoff=10 if r == 1 else 12),
    )
    layout[ya] = dict(
        domain=[1 - b / H, 1 - t / H], range=[-26.1, 21.4], anchor=f"x{n}",
        tickvals=y_ticks, showticklabels=(c == 0),
        ticks="inside", ticklen=10, tickwidth=2.5, tickcolor=AXIS,
        tickfont=dict(size=27, color="#262626"),
        showline=True, linecolor=AXIS, linewidth=3, mirror=False,
        showgrid=True, gridcolor=GRID, griddash="4px,4px", gridwidth=1.6, zeroline=False,
        title=dict(text=y_label, font=dict(size=28, color="#262626"), standoff=8),
    )
    annotations.append(dict(
        text=titles[i], x=(l + rt) / 2 / W, xref="paper", xanchor="center",
        y=1 - title_y[r] / H, yref="paper", yanchor="middle",
        showarrow=False, font=dict(size=38, color="#333333"),
    ))
layout["annotations"] = annotations
fig.update_layout(**layout)
fig.write_html("out.html", config=dict(displayModeBar=False),
               post_script="document.body.style.margin='0';")
